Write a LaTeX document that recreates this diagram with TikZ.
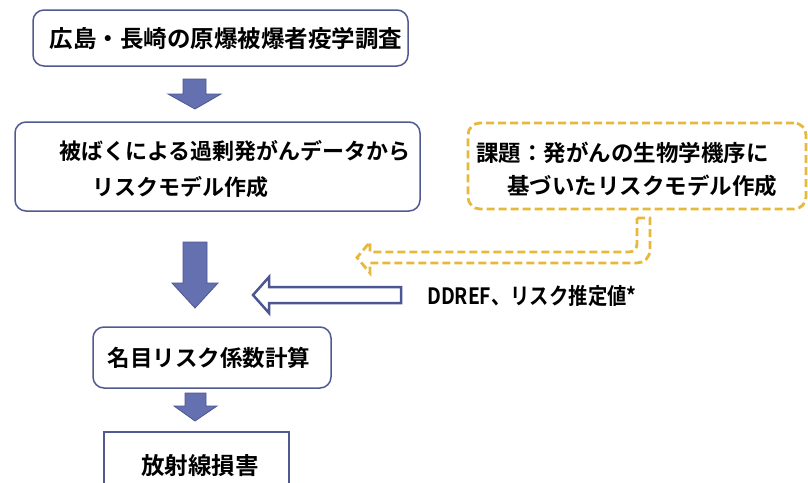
\documentclass[tikz,border=0pt]{standalone}
\usepackage{fontspec}
\setmainfont{Noto Sans CJK JP}[BoldFont={Noto Sans CJK JP Bold}]
\usetikzlibrary{calc}
\definecolor{boxline}{RGB}{80,90,145}
\definecolor{arrfill}{RGB}{100,112,176}
\definecolor{arrline}{RGB}{76,86,146}
\definecolor{yel}{RGB}{230,184,60}
\tikzset{
  x=1pt, y=-1pt,
  box/.style={draw=boxline, line width=1.5pt, rounded corners=11pt, inner sep=0pt},
  sqbox/.style={draw=boxline, line width=1.5pt, inner sep=0pt},
  ybox/.style={draw=yel, line width=2.8pt, dash pattern=on 8pt off 4pt, rounded corners=12pt, inner sep=0pt},
  txt/.style={font=\fontsize{22.5}{26}\selectfont\bfseries, inner sep=0pt, text=black},
  blockarrow/.style={fill=arrfill, draw=arrline, line width=0.8pt},
  hollowarrow/.style={fill=white, draw=arrline, line width=2.5pt, line join=miter},
  yarrow/.style={draw=yel, line width=2.8pt, dash pattern=on 8pt off 4pt}
}
\begin{document}
\begin{tikzpicture}
\useasboundingbox (0,0) rectangle (808,482);
\clip (0,0) rectangle (808,482);
% boxes
\node[box, minimum width=375pt, minimum height=56pt] (b1) at (220.5,38) {};
\node[txt, font=\fontsize{23.5}{26}\selectfont\bfseries] (t1) at (226,39) {広島・長崎の原爆被爆者疫学調査};
\node[box, minimum width=405pt, minimum height=89pt] (b2) at (217.5,166.5) {};
\node[txt, anchor=west, font=\fontsize{22}{26}\selectfont\bfseries] (t2a) at (59,151) {被ばくによる過剰発がんデータから};
\node[txt, anchor=west, font=\fontsize{22}{26}\selectfont\bfseries] (t2b) at (92,187) {リスクモデル作成};
\node[ybox, minimum width=338pt, minimum height=86pt] (y1) at (637,166) {};
\node[txt, anchor=west] (ty1) at (476,153) {課題：発がんの生物学機序に};
\node[txt, anchor=west] (ty2) at (507,186) {基づいたリスクモデル作成};
\node[box, minimum width=238pt, minimum height=61pt] (b3) at (212,357.5) {};
\node[txt] (t3) at (209,358) {名目リスク係数計算};
\node[sqbox, minimum width=185pt, minimum height=80pt, anchor=north] (b4) at (196.5,431) {};
\node[txt, font=\fontsize{23.5}{26}\selectfont\bfseries] (t4) at (200,466) {放射線損害};
\node[txt, anchor=west] (dd) at (427,296) {\scalebox{0.86}[1]{DDREF、リスク推定値*}};
% block arrows
\draw[blockarrow] (183,79) -- (206,79) -- (206,94) -- (221,94) -- (195,109) -- (168,94) -- (183,94) -- cycle;
\draw[blockarrow] (183,242) -- (207,242) -- (207,283) -- (218,283) -- (195,308) -- (172,283) -- (183,283) -- cycle;
\draw[blockarrow] (185,393) -- (206,393) -- (206,406) -- (217,406) -- (195,421) -- (174,406) -- (185,406) -- cycle;
% hollow arrow
\draw[hollowarrow] (401,287) -- (269,287) -- (269,277) -- (253,295) -- (269,313) -- (269,303) -- (401,303) -- cycle;
% yellow dashed bent arrow
\draw[yarrow] (637,218) -- (650,218) -- (650,250) arc[start angle=0, end angle=90, radius=13] -- (370,263) -- (370,273) -- (357,257.5) -- (370,242) -- (370,252) -- (629,252) arc[start angle=90, end angle=0, radius=8] -- cycle;
\end{tikzpicture}
\end{document}
